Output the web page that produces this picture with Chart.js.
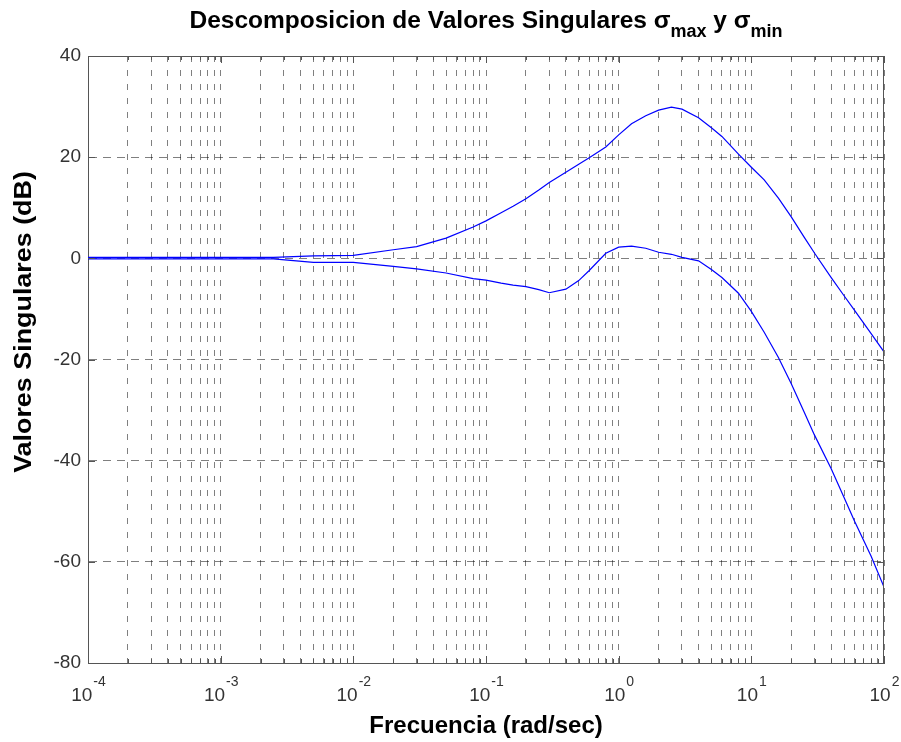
<!DOCTYPE html>
<html>
<head>
<meta charset="utf-8">
<script src="https://cdn.jsdelivr.net/npm/chart.js@4.4.0/dist/chart.umd.min.js"></script>
<style>
  body { margin: 0; background: #fff; }
  #wrap { width: 901px; height: 742px; }
</style>
</head>
<body>
<div id="wrap"><canvas id="svdChart" width="901" height="742"></canvas></div>
<script>
// frecuencias (rad/sec) y valores singulares (dB)
const freqs = [0.0001, 0.001, 0.0025, 0.005, 0.01, 0.02, 0.03, 0.05, 0.08, 0.1,
  0.13, 0.16, 0.2, 0.25, 0.3, 0.4, 0.5, 0.6, 0.8, 1,
  1.25, 1.6, 2, 2.5, 3, 4, 5, 6, 8, 10,
  12.5, 16, 20, 25, 30, 40, 50, 60, 80, 100];
const sigmaMax = [0.2, 0.2, 0.2, 0.5, 0.6, 1.7, 2.3, 4.0, 6.2, 7.4,
  9.0, 10.3, 11.8, 13.5, 15.0, 17.0, 18.6, 19.9, 22.0, 24.4,
  26.6, 28.2, 29.3, 29.9, 29.5, 27.8, 25.8, 24.1, 20.6, 18.0,
  15.5, 11.9, 8.2, 4.2, 1.0, -3.8, -7.4, -10.3, -14.9, -18.5];
const sigmaMin = [-0.1, -0.1, -0.1, -0.8, -0.8, -1.6, -2.1, -2.9, -4.0, -4.3,
  -4.9, -5.3, -5.6, -6.2, -6.8, -6.1, -4.4, -2.4, 1.0, 2.2,
  2.4, 2.0, 1.2, 0.8, 0.2, -0.5, -2.2, -3.8, -6.9, -10.5,
  -14.6, -19.6, -24.8, -30.4, -35.0, -41.6, -47.3, -52.0, -58.9, -65];
const yTicks = [40, 20, 0, -20, -40, -60, -80];
const decades = [-4, -3, -2, -1, 0, 1, 2];

const FONT = '"Liberation Sans", Arial, Helvetica, sans-serif';
const gridColor = 'rgba(0,0,0,0.5)';
const axisColor = '#555';

function toPoints(vals) {
  return freqs.map((f, i) => ({ x: f, y: vals[i] }));
}

// dibuja titulo, etiquetas de ejes, marco y marcas interiores
const matlabAxes = {
  id: 'matlabAxes',
  afterDraw(chart) {
    const ctx = chart.ctx;
    const a = chart.chartArea;
    const xs = chart.scales.x;
    const ys = chart.scales.y;
    ctx.save();

    // marco
    ctx.strokeStyle = axisColor;
    ctx.lineWidth = 1;
    ctx.beginPath();
    ctx.moveTo(a.left, a.top + 0.5);
    ctx.lineTo(a.right, a.top + 0.5);
    ctx.moveTo(a.right - 0.5, a.top);
    ctx.lineTo(a.right - 0.5, a.bottom);
    ctx.stroke();

    // marcas interiores
    ctx.beginPath();
    xs.ticks.forEach(t => {
      const px = Math.round(xs.getPixelForValue(t.value)) + 0.5;
      const major = Math.abs(Math.log10(t.value) - Math.round(Math.log10(t.value))) < 1e-9;
      const len = major ? 7 : 4;
      ctx.moveTo(px, a.bottom); ctx.lineTo(px, a.bottom - len);
      ctx.moveTo(px, a.top); ctx.lineTo(px, a.top + len);
    });
    yTicks.forEach(v => {
      const py = Math.round(ys.getPixelForValue(v)) + 0.5;
      ctx.moveTo(a.left, py); ctx.lineTo(a.left + 7, py);
      ctx.moveTo(a.right, py); ctx.lineTo(a.right - 7, py);
    });
    ctx.stroke();

    // etiquetas del eje x: 10^n
    ctx.fillStyle = '#333';
    ctx.textBaseline = 'alphabetic';
    ctx.textAlign = 'left';
    decades.forEach(n => {
      const px = xs.getPixelForValue(Math.pow(10, n));
      ctx.font = '19px ' + FONT;
      const wb = ctx.measureText('10').width;
      ctx.font = '14px ' + FONT;
      const we = ctx.measureText(String(n)).width;
      const x0 = px - (wb + we) / 2;
      ctx.font = '19px ' + FONT;
      ctx.fillText('10', x0, 701);
      ctx.font = '14px ' + FONT;
      ctx.fillText(String(n), x0 + wb + 1, 686);
    });

    // titulo con subindices
    ctx.fillStyle = '#000';
    const parts = [
      { t: 'Descomposicion de Valores Singulares ', f: 'bold 24.5px ', dy: 0 },
      { t: 'σ', f: 'bold 24.5px ', dy: 0 },
      { t: 'max', f: 'bold 18px ', dy: 9 },
      { t: ' y ', f: 'bold 24.5px ', dy: 0 },
      { t: 'σ', f: 'bold 24.5px ', dy: 0 },
      { t: 'min', f: 'bold 18px ', dy: 9 }
    ];
    let total = 0;
    parts.forEach(p => { ctx.font = p.f + FONT; p.w = ctx.measureText(p.t).width; total += p.w; });
    let cx = (a.left + a.right) / 2 - total / 2;
    parts.forEach(p => {
      ctx.font = p.f + FONT;
      ctx.fillText(p.t, cx, 28 + p.dy);
      cx += p.w;
    });

    // titulos de ejes
    ctx.textAlign = 'center';
    ctx.font = 'bold 24px ' + FONT;
    ctx.fillText('Frecuencia (rad/sec)', (a.left + a.right) / 2, 733);
    ctx.save();
    ctx.translate(31, 322);
    ctx.rotate(-Math.PI / 2);
    ctx.scale(1.12, 1);
    ctx.fillText('Valores Singulares (dB)', 0, 0);
    ctx.restore();

    ctx.restore();
  }
};

const ctx = document.getElementById('svdChart').getContext('2d');
const chart = new Chart(ctx, {
  type: 'line',
  data: {
    datasets: [
      { label: 'sigma max', data: toPoints(sigmaMax), borderColor: '#0000ff', borderWidth: 1.2, pointRadius: 0, tension: 0, fill: false },
      { label: 'sigma min', data: toPoints(sigmaMin), borderColor: '#0000ff', borderWidth: 1.2, pointRadius: 0, tension: 0, fill: false }
    ]
  },
  options: {
    responsive: false,
    devicePixelRatio: 1,
    animation: false,
    layout: { padding: { top: 56, right: 17, left: 0, bottom: 0 } },
    plugins: { legend: { display: false }, tooltip: { enabled: false }, title: { display: false } },
    scales: {
      x: {
        type: 'logarithmic',
        min: 0.0001,
        max: 100,
        afterBuildTicks(scale) {
          const t = [];
          decades.forEach(n => {
            for (let k = 1; k <= 9; k++) {
              const v = k * Math.pow(10, n);
              if (v <= 100 + 1e-9) t.push({ value: v });
            }
          });
          scale.ticks = t;
        },
        afterFit(scale) { scale.height = 742 - 663; },
        ticks: { display: false },
        grid: { color: gridColor, lineWidth: 1, drawTicks: false },
        border: { display: true, color: axisColor, width: 1, dash: [6, 8] }
      },
      y: {
        min: -80,
        max: 40,
        afterBuildTicks(scale) {
          scale.ticks = yTicks.map(v => ({ value: v }));
        },
        afterFit(scale) { scale.width = 88; },
        ticks: {
          padding: 7,
          color: '#333',
          font: { family: FONT, size: 19 },
          callback: v => String(v)
        },
        grid: { color: gridColor, lineWidth: 1, drawTicks: false },
        border: { display: true, color: axisColor, width: 1, dash: [8, 6] }
      }
    }
  },
  plugins: [matlabAxes]
});
</script>
</body>
</html>
